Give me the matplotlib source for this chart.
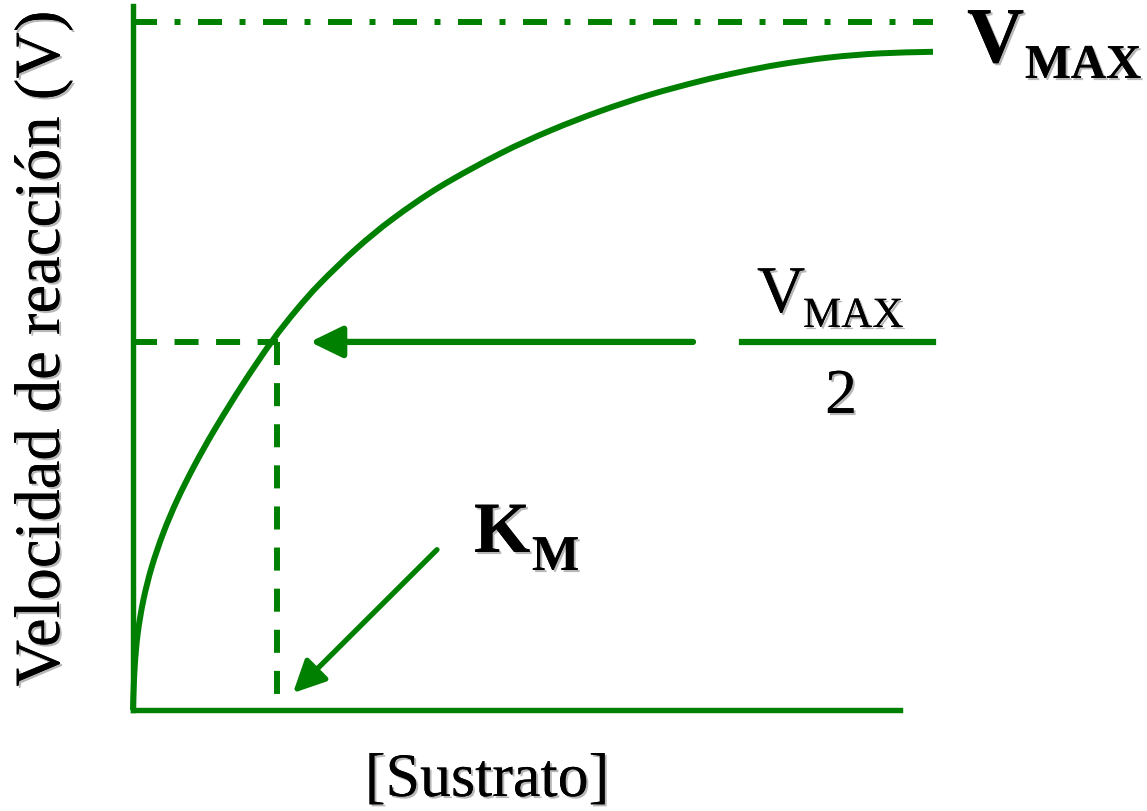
import matplotlib
matplotlib.use("Agg")
import numpy as np
import matplotlib.pyplot as plt
from matplotlib.patches import FancyArrowPatch, ArrowStyle, PathPatch
from matplotlib.path import Path
import matplotlib.patheffects as pe

plt.rcParams['lines.scale_dashes'] = False
plt.rcParams['font.family'] = ['Liberation Serif', 'DejaVu Serif']

# ---- data (substrate in units of Km, velocity in units of Vmax) ----
substrate = [0.0, 0.0118, 0.0333, 0.0722, 0.1299, 0.2104, 0.3069, 0.4250, 0.5653,
             0.7632, 0.9660, 1.1319, 1.2986, 1.5486, 1.8056, 2.1319, 2.5486,
             2.8958, 3.2431, 3.5903, 3.9375, 4.2153, 4.4931, 4.8403, 5.1875, 5.5556]
velocity = [0.0, 0.0625, 0.1119, 0.1599, 0.2078, 0.2573, 0.3052, 0.3547, 0.4070,
            0.4738, 0.5363, 0.5807, 0.6198, 0.6701, 0.7141, 0.7606, 0.8086,
            0.8420, 0.8703, 0.8943, 0.9140, 0.9273, 0.9384, 0.9485, 0.9544, 0.9567]
vmax_level = 1.0
half_level = 0.535
km_value = 1.0
s_end = 5.556          # right end of Vmax line
s_axis_end = 5.326     # end of x axis line
v_axis_end = 1.023     # top of y axis line
km_line_bottom = 0.019
h_arrow = (3.889, 1.229)            # start, tip (S) at half level
frac_bar = (4.229, 5.556)
km_arrow = ((2.111, 0.233), (1.111, 0.0247))

xlabel = "[Sustrato]"
ylabel = "Velocidad de reacción (V)"

GREEN = "#008000"
W, H = 1147, 811
SERIF = ['Liberation Serif', 'DejaVu Serif']

fig = plt.figure(figsize=(W / 100, H / 100), dpi=100)
ax = fig.add_axes([0, 0, 1, 1])
ax.set_xlim(-133 / 144, (W - 133) / 144)
ax.set_ylim(-(H - 710) / 688, 710 / 688)
ax.axis('off')

# axes lines
ax.plot([0, 0], [0, v_axis_end], color=GREEN, lw=3.9, solid_capstyle='projecting')
ax.plot([0, s_axis_end], [0, 0], color=GREEN, lw=3.9, solid_capstyle='projecting')

# Vmax dash-dot line
ax.plot([0, s_end], [vmax_level, vmax_level], color=GREEN, lw=4.3,
        linestyle=(0, (17.3, 12.6, 4.3, 12.6)))

# half-Vmax dashed lines
ax.plot([0, km_value + 0.01], [half_level, half_level], color=GREEN, lw=4.3,
        linestyle=(0, (17.3, 12.6)))
ax.plot([km_value, km_value], [half_level, km_line_bottom], color=GREEN, lw=4.3,
        linestyle=(0, (16.6, 13.0)))

# curve: smooth Bezier path through the read points (Catmull-Rom handles)
pts = np.column_stack([substrate, velocity])
ext = np.vstack([pts[0] - (pts[1] - pts[0]) * np.array([0.0, 1.0]), pts, 2 * pts[-1] - pts[-2]])
verts = [tuple(pts[0])]
codes = [Path.MOVETO]
for i in range(1, len(ext) - 2):
    p0, p1, p2, p3 = ext[i - 1], ext[i], ext[i + 1], ext[i + 2]
    c1 = p1 + (p2 - p0) / 6.0
    c2 = p2 - (p3 - p1) / 6.0
    verts += [tuple(c1), tuple(c2), tuple(p2)]
    codes += [Path.CURVE4] * 3
ax.add_patch(PathPatch(Path(verts, codes), facecolor='none', edgecolor=GREEN,
                       lw=4.3, capstyle='butt', joinstyle='round'))

# fraction bar
ax.plot(list(frac_bar), [half_level, half_level], color=GREEN, lw=4.5)

# arrows
style = ArrowStyle('-|>', head_length=19.5, head_width=9.5)
ax.add_patch(FancyArrowPatch((h_arrow[0], half_level), (h_arrow[1], half_level),
                             arrowstyle=style, mutation_scale=1, color=GREEN,
                             lw=4.5, shrinkA=0, shrinkB=0))
ax.add_patch(FancyArrowPatch(km_arrow[0], km_arrow[1],
                             arrowstyle=style, mutation_scale=1, color=GREEN,
                             lw=3.8, shrinkA=0, shrinkB=0))

shadow = [pe.withSimplePatchShadow(offset=(1.5, -1.5), shadow_rgbFace='#888888', alpha=0.6),
          pe.Normal()]

def ptext(x, y, s, size, weight='normal', **kw):
    fig.text(x / W, 1 - y / H, s, fontsize=size, fontweight=weight, family=SERIF,
             color='black', path_effects=shadow, **kw)

# Vmax label (bold)
ptext(967, 62, "V", 57, 'bold', ha='left', va='baseline')
ptext(1025, 78, "MAX", 35, 'bold', ha='left', va='baseline')

# Vmax / 2 label
ptext(757, 312, "V", 48, ha='left', va='baseline')
ptext(803, 327, "MAX", 31, ha='left', va='baseline')
ptext(841, 413, "2", 46, ha='center', va='baseline')

# Km label
ptext(474, 552, "K", 52, 'bold', ha='left', va='baseline')
ptext(532, 570, "M", 36, 'bold', ha='left', va='baseline')

# axis labels
ptext(487, 796, xlabel, 44.6, ha='center', va='baseline')
ptext(43, 348, ylabel, 46.5, ha='center', va='center', rotation=90)

fig.savefig("out.png", dpi=100)
